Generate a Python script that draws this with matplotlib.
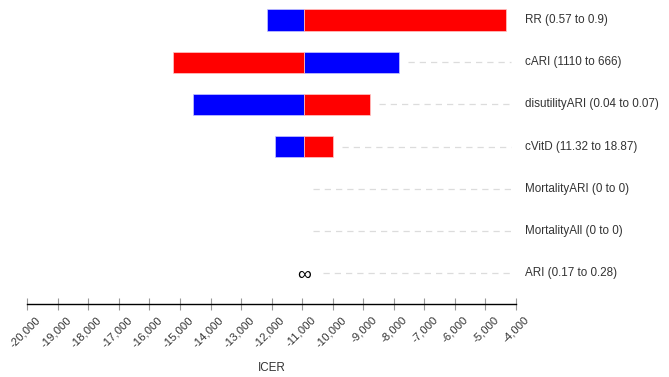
import numpy as np
import matplotlib
matplotlib.use("Agg")
import matplotlib.pyplot as plt
import matplotlib.transforms as mtransforms
from matplotlib.ticker import FuncFormatter

params = ["RR", "cARI", "disutilityARI", "cVitD", "MortalityARI", "MortalityAll", "ARI"]
ranges = ["0.57 to 0.9", "1110 to 666", "0.04 to 0.07", "11.32 to 18.87",
          "0 to 0", "0 to 0", "0.17 to 0.28"]
base_icer = -10940
low_icer = [-12140, -7830, -14560, -11890, -10940, -10940, np.inf]
high_icer = [-4330, -15240, -8770, -9980, -10940, -10940, np.inf]
xticks = list(range(-20000, -3999, 1000))

plt.rcParams['font.family'] = ['Liberation Sans', 'DejaVu Sans']
fig = plt.figure(figsize=(6.69, 3.77), dpi=100)
ax = fig.add_axes([27.3 / 669, 1 - 304.3 / 377, (516 - 27.3) / 669, 304.3 / 377])
ax.set_xlim(-20000, -4000)
ax.set_ylim(6.737, -0.474)

blue = "#0000ff"
red = "#ff0000"
txtc = "#333333"
px = 16000 / (516 - 27.3)  # data units per pixel
for i, (p, r, lo, hi) in enumerate(zip(params, ranges, low_icer, high_icer)):
    if np.isfinite(lo) and np.isfinite(hi):
        if lo != base_icer:
            ax.barh(i, lo - base_icer, left=base_icer, height=0.5, color=blue,
                    edgecolor="#c8c8ff", linewidth=0.5)
        if hi != base_icer:
            ax.barh(i, hi - base_icer, left=base_icer, height=0.5, color=red,
                    edgecolor="#ffc8c8", linewidth=0.5)
        end = max(lo, hi, base_icer)
        start = end + 9 * px
    else:
        t = ax.text(base_icer, i, "∞", ha="center", va="center", fontsize=14,
                    color="black")
        t.set_transform(ax.transData + mtransforms.ScaledTranslation(0, -0.025, fig.dpi_scale_trans))
        start = base_icer + 19 * px
    dash_end = -20000 + (511 - 27.3) * px
    if start < dash_end:
        ax.plot([start, dash_end], [i, i], color="#dcdcdc", lw=0.9,
                dashes=(5, 4), clip_on=False)
    ax.text(-20000 + (525 - 27.3) * px, i, f"{p} ({r})", ha="left", va="center",
            fontsize=8.4, color=txtc, clip_on=False)

for s in ["top", "right", "left"]:
    ax.spines[s].set_visible(False)
ax.spines["bottom"].set_color("black")
ax.spines["bottom"].set_linewidth(1.0)
ax.set_yticks([])
ax.set_xticks(xticks)
ax.xaxis.set_major_formatter(FuncFormatter(lambda v, _: f"{int(v):,}"))
ax.tick_params(axis="x", direction="inout", length=8, width=0.8, color="#999999",
               labelsize=8.2, labelcolor=txtc, pad=2)
offset = mtransforms.ScaledTranslation(0.08, -0.02, fig.dpi_scale_trans)
for lab in ax.get_xticklabels():
    lab.set_rotation(45)
    lab.set_ha("right")
    lab.set_rotation_mode("anchor")
    lab.set_transform(lab.get_transform() + offset)
ax.set_xlabel("ICER", fontsize=8.4, color=txtc, labelpad=9)

fig.savefig("out.png", dpi=100)
